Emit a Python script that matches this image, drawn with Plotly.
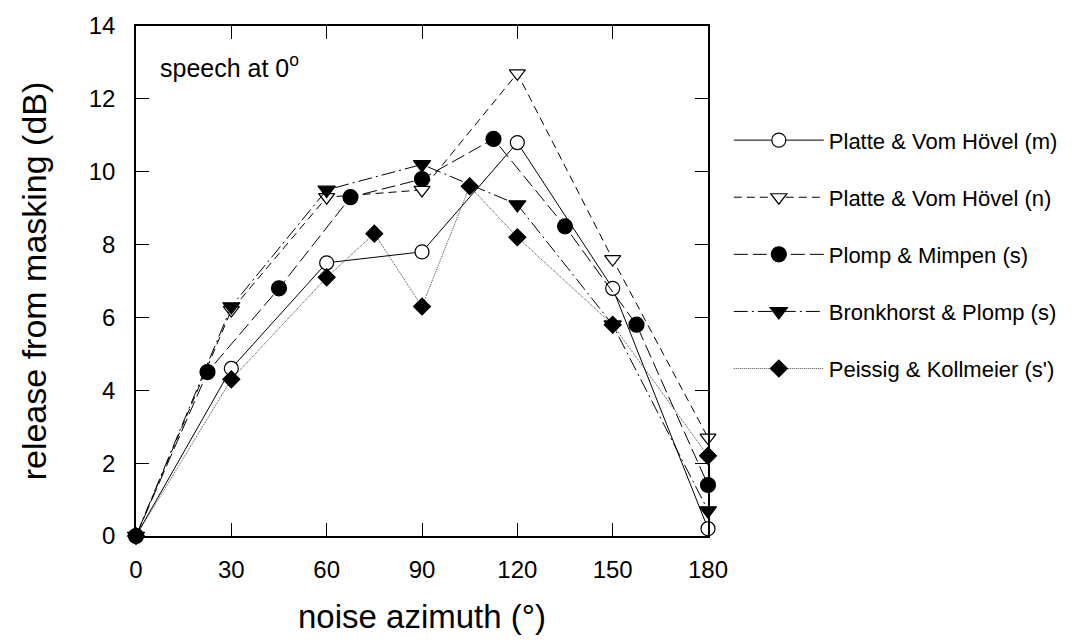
import plotly.graph_objects as go

# ---- data ----
az_std = [0, 30, 60, 90, 120, 150, 180]
pvh_m = [0, 4.6, 7.5, 7.8, 10.8, 6.8, 0.2]
pvh_n = [0, 6.2, 9.3, 9.5, 12.7, 7.6, 2.7]

az_pm = [0, 22.5, 45, 67.5, 90, 112.5, 135, 157.5, 180]
plomp_mimpen = [0, 4.5, 6.8, 9.3, 9.8, 10.9, 8.5, 5.8, 1.4]

bronkhorst_plomp = [0, 6.3, 9.5, 10.2, 9.1, 5.8, 0.7]

az_pk = [0, 30, 60, 75, 90, 105, 120, 150, 180]
peissig_kollmeier = [0, 4.3, 7.1, 8.3, 6.3, 9.6, 8.2, 5.8, 2.2]

names = ["Platte & Vom Hövel (m)", "Platte & Vom Hövel (n)", "Plomp & Mimpen (s)",
         "Bronkhorst & Plomp (s)", "Peissig & Kollmeier (s')"]

x_ticks = [0, 30, 60, 90, 120, 150, 180]
y_ticks = [0, 2, 4, 6, 8, 10, 12, 14]

FONT = "Arial, 'Liberation Sans', Helvetica, sans-serif"

fig = go.Figure()

series = [
    (az_std, pvh_m, names[0], "circle", "white", "solid", "black", 14),
    (az_std, pvh_n, names[1], "triangle-down", "white", "8px,5px", "black", 14),
    (az_pm, plomp_mimpen, names[2], "circle", "black", "14px,5px", "black", 15),
    (az_std, bronkhorst_plomp, names[3], "triangle-down", "black", "14px,4px,2px,4px", "black", 15),
    (az_pk, peissig_kollmeier, names[4], "diamond", "black", "1px,1px", "#444444", 13),
]

for i, (xs, ys, nm, sym, fill, dash, lcol, msz) in enumerate(series):
    fig.add_trace(go.Scatter(
        x=xs, y=ys, name=nm, mode="lines+markers",
        legendgroup=f"g{i}",
        line=dict(color=lcol, width=1, dash=dash),
        marker=dict(symbol=sym, size=msz, color=fill,
                    line=dict(color="black", width=1.2)),
        cliponaxis=False,
    ))

fig.add_annotation(
    x=7, y=12.9, xref="x", yref="y", xanchor="left", yanchor="middle",
    text="speech at 0<sup>o</sup>", showarrow=False,
    font=dict(family=FONT, size=25, color="black"),
)

axis_common = dict(
    showgrid=False, zeroline=False, showline=True, linecolor="black", linewidth=1.5,
    mirror="ticks", ticks="inside", ticklen=13, tickwidth=1, tickcolor="black",
    tickfont=dict(family=FONT, size=24, color="black"),
)

fig.update_xaxes(
    range=[0, 180], tickvals=x_ticks, ticklabelstandoff=11,
    title=dict(text="noise azimuth (°)", font=dict(family=FONT, size=33, color="black"), standoff=23),
    **axis_common,
)
fig.update_yaxes(
    range=[0, 14], tickvals=y_ticks, ticklabelstandoff=14,
    title=dict(text="release from masking (dB)", font=dict(family=FONT, size=34, color="black"), standoff=32),
    **axis_common,
)

fig.update_layout(
    width=1075, height=641,
    margin=dict(l=136, r=362, t=16, b=103),
    paper_bgcolor="white", plot_bgcolor="white",
    font=dict(family=FONT, color="black"),
    legend=dict(
        x=1.0364, y=0.817, xanchor="left", yanchor="top",
        font=dict(family=FONT, size=22, color="black"),
        itemwidth=90, tracegroupgap=25.5, bgcolor="rgba(0,0,0,0)",
    ),
    showlegend=True,
)

fig.write_html("out.html")
